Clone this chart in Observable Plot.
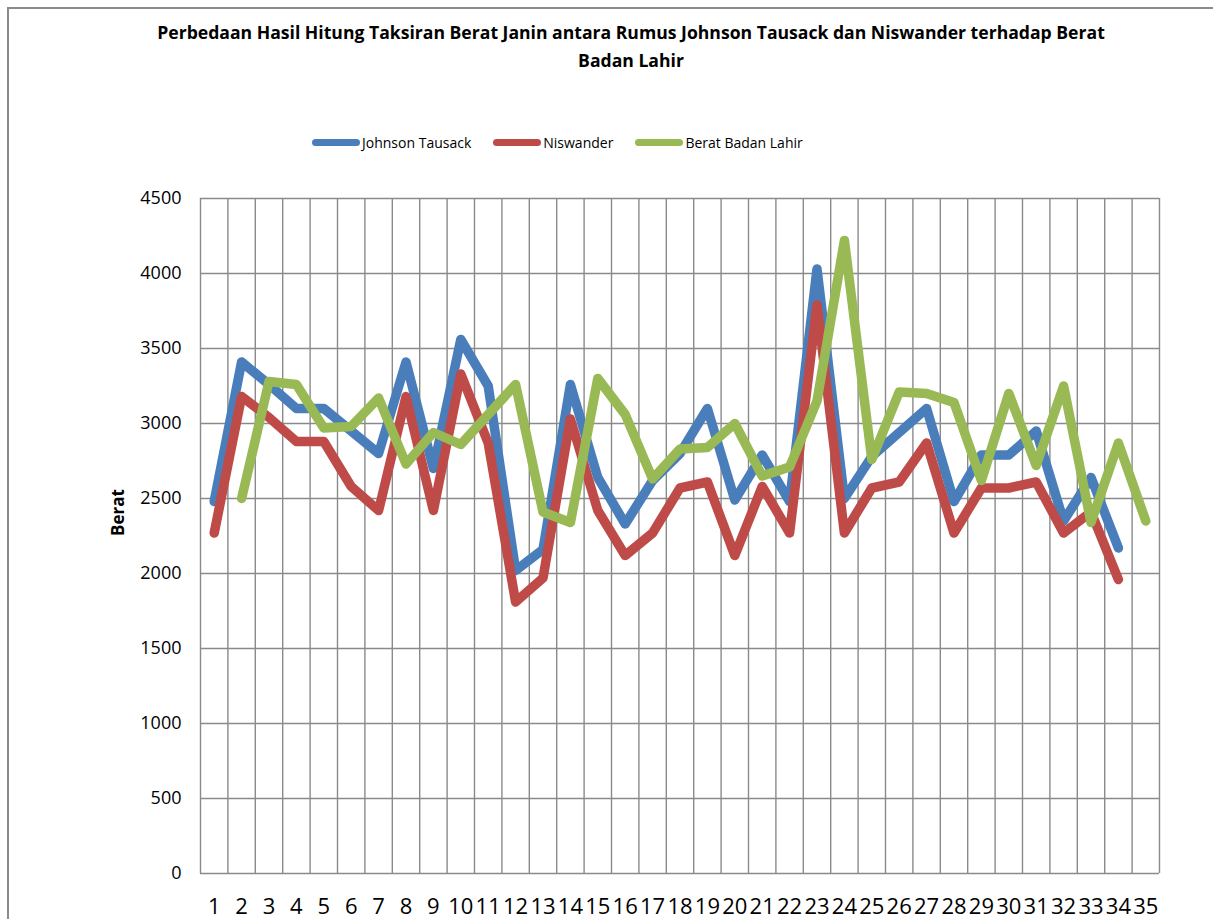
<!DOCTYPE html>
<html>
<head>
<meta charset="utf-8">
<script src="https://cdn.jsdelivr.net/npm/d3@7"></script>
<script src="https://cdn.jsdelivr.net/npm/@observablehq/plot@0.6"></script>
<style>
  html, body { margin: 0; padding: 0; background: #fff; }
  body { width: 1213px; height: 919px; overflow: hidden; font-family: "Open Sans", sans-serif; color: #000; }
  #chart { position: relative; width: 1213px; height: 919px; }
  .frame { position: absolute; left: 7px; top: 7px; width: 1240px; height: 940px;
           border-left: 2px solid #8a8a8a; border-top: 2px solid #8a8a8a; }
  .title { position: absolute; left: 81px; top: 18px; width: 1100px; text-align: center;
           font-weight: 700; font-size: 17.6px; line-height: 28px; }
  .legend { position: absolute; left: 312px; top: 130px; display: flex; align-items: center;
            font-size: 14px; height: 24px; white-space: nowrap; }
  .legend .item { display: flex; align-items: center; }
  .legend .swatch { display: inline-block; width: 48px; height: 7px; border-radius: 4px; margin-right: 2px; }
  #plot { position: absolute; left: 0; top: 165px; }
</style>
</head>
<body>
<div id="chart">
  <div class="frame"></div>
  <div class="title" id="title"></div>
  <div class="legend" id="legend"></div>
  <div id="plot"></div>
</div>
<script>
// Sample number of each newborn (x axis categories)
const categories = [1, 2, 3, 4, 5, 6, 7, 8, 9, 10, 11, 12, 13, 14, 15, 16, 17, 18, 19, 20,
                    21, 22, 23, 24, 25, 26, 27, 28, 29, 30, 31, 32, 33, 34, 35];

// Estimated fetal weight, Johnson Tausack formula (grams)
const johnsonTausack = [2480, 3410, 3260, 3100, 3100, 2950, 2800, 3410, 2700, 3560,
                        3250, 2020, 2160, 3260, 2640, 2330, 2620, 2800, 3100, 2490,
                        2790, 2480, 4030, 2500, 2780, 2940, 3100, 2480, 2790, 2790,
                        2950, 2350, 2640, 2170, null];

// Estimated fetal weight, Niswander formula (grams)
const niswander = [2270, 3180, 3040, 2880, 2880, 2580, 2420, 3180, 2420, 3330,
                   2870, 1810, 1970, 3030, 2420, 2120, 2270, 2570, 2610, 2120,
                   2580, 2270, 3790, 2270, 2570, 2610, 2870, 2270, 2570, 2570,
                   2610, 2270, 2410, 1960, null];

// Actual birth weight (grams)
const beratBadanLahir = [null, 2500, 3280, 3260, 2970, 2980, 3170, 2730, 2940, 2860,
                         3060, 3260, 2410, 2340, 3300, 3060, 2630, 2830, 2840, 3000,
                         2650, 2710, 3150, 4220, 2760, 3210, 3200, 3140, 2620, 3200,
                         2720, 3250, 2340, 2870, 2350];

const yTicks = [0, 500, 1000, 1500, 2000, 2500, 3000, 3500, 4000, 4500];

const titleLines = [
  "Perbedaan Hasil Hitung Taksiran Berat Janin antara Rumus Johnson Tausack dan Niswander terhadap Berat",
  "Badan Lahir"
];
const yLabel = "Berat";

const series = [
  {name: "Johnson Tausack", values: johnsonTausack, color: "#4a7ebb"},
  {name: "Niswander", values: niswander, color: "#be4b48"},
  {name: "Berat Badan Lahir", values: beratBadanLahir, color: "#98b954"}
];

// Title
const titleEl = document.getElementById("title");
titleLines.forEach((t, i) => {
  if (i) titleEl.appendChild(document.createElement("br"));
  titleEl.appendChild(document.createTextNode(t));
});

// Legend
const legendEl = document.getElementById("legend");
const legendGaps = [0, 22, 22];
series.forEach((s, i) => {
  const item = document.createElement("span");
  item.className = "item";
  item.style.marginLeft = legendGaps[i] + "px";
  const sw = document.createElement("span");
  sw.className = "swatch";
  sw.style.background = s.color;
  item.appendChild(sw);
  item.appendChild(document.createTextNode(s.name));
  legendEl.appendChild(item);
});

// Category boundaries for the vertical grid
const boundaries = categories.map(c => c - 0.5).concat([categories[categories.length - 1] + 0.5]);

const chart = Plot.plot({
  width: 1213,
  height: 754,
  marginLeft: 200,
  marginRight: 54,
  marginTop: 33,
  marginBottom: 46,
  style: {fontFamily: "Open Sans, sans-serif", color: "#000", background: "transparent", overflow: "visible"},
  x: {type: "linear", domain: [0.5, categories.length + 0.5]},
  y: {domain: [0, 4500]},
  marks: [
    Plot.ruleY(yTicks, {stroke: "#8a8a8a", strokeWidth: 1.4, strokeOpacity: 1}),
    Plot.ruleX(boundaries, {stroke: "#8a8a8a", strokeWidth: 1.4, strokeOpacity: 1}),
    Plot.axisY({ticks: yTicks, tickSize: 0, tickPadding: 19, fontSize: 18, label: null, tickFormat: d => `${d}`}),
    Plot.axisX({ticks: categories, tickSize: 0, tickPadding: 25, fontSize: 22, label: null, tickFormat: d => `${d}`}),
    Plot.text([yLabel], {frameAnchor: "left", dx: -82, rotate: -90, fontWeight: "bold", fontSize: 17}),
    ...series.map(s => Plot.line(s.values, {
      x: (d, i) => categories[i],
      y: d => d,
      stroke: s.color,
      strokeWidth: 9.5,
      strokeLinejoin: "round",
      strokeLinecap: "round"
    }))
  ]
});
document.getElementById("plot").appendChild(chart);
</script>
</body>
</html>
